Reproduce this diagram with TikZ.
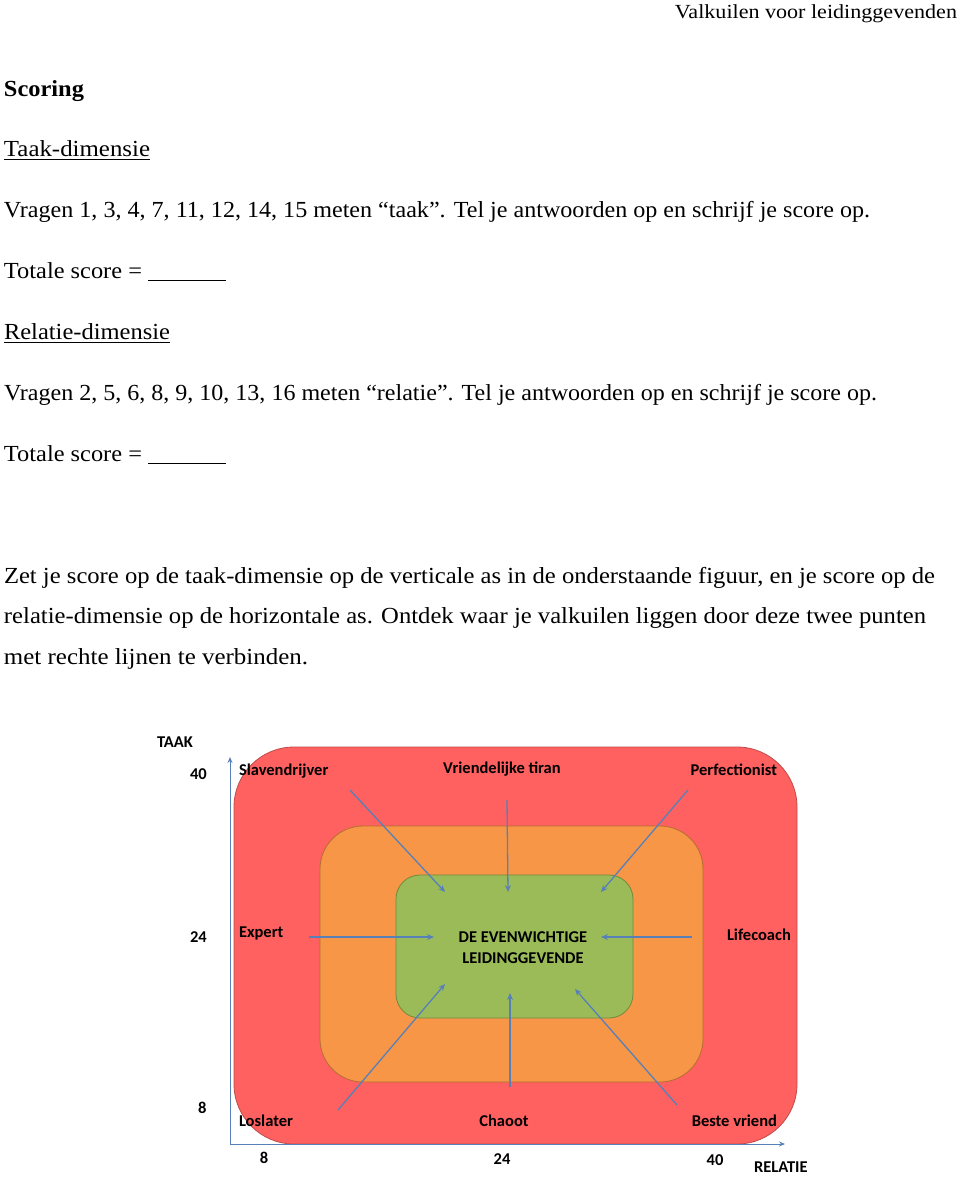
\documentclass[tikz,border=0pt]{standalone}
\usepackage{fontspec}
\setmainfont{Liberation Serif}
\newfontfamily\calib{Carlito}
\usetikzlibrary{arrows.meta}
\definecolor{redfill}{RGB}{255,96,96}
\definecolor{redline}{RGB}{190,75,72}
\definecolor{orfill}{RGB}{247,150,70}
\definecolor{orline}{RGB}{182,109,49}
\definecolor{grfill}{RGB}{155,187,89}
\definecolor{grline}{RGB}{113,137,63}
\definecolor{arrblue}{RGB}{88,128,184}
\newcommand{\fitw}[2]{\resizebox{#1pt}{\height}{#2}}
\tikzset{
  txt/.style={inner sep=0pt, outer sep=0pt, font=\fontsize{23}{27}\selectfont, anchor=base west},
  lab/.style={inner sep=0pt, outer sep=0pt, font=\calib\bfseries\fontsize{16.5}{19}\selectfont, text=black},
  ptr/.style={draw=arrblue, line width=1.3pt, -{Stealth[length=7pt,width=6pt,inset=2.5pt]}},
  axisline/.style={draw=arrblue, line width=1pt, -{Stealth[length=6pt,width=5pt,inset=2pt]}},
  zone/.style={line width=0.8pt}
}
\begin{document}
\begin{tikzpicture}[x=1pt,y=-1pt]
\useasboundingbox (0,0) rectangle (960,1179);
% header and text
\node[txt, anchor=base east, font=\fontsize{20}{23}\selectfont] (hdr) at (957,18) {\fitw{282}{Valkuilen voor leidinggevenden}};
\node[txt, font=\bfseries\fontsize{23}{27}\selectfont] (scoring) at (4,96) {\fitw{80}{Scoring}};
\node[txt] (taak) at (4,156) {\fitw{146}{Taak-dimensie}};
\draw[line width=0.9pt] (4,159) coordinate (tu1) -- (150,159) coordinate (tu2);
\node[txt] (vr1) at (4,217) {\fitw{866}{Vragen 1, 3, 4, 7, 11, 12, 14, 15 meten “taak”. Tel je antwoorden op en schrijf je score op.}};
\node[txt] (ts1) at (4,278) {\fitw{138}{Totale score =}};
\draw[line width=0.9pt] (148,280) coordinate (s1a) -- (226,280) coordinate (s1b);
\node[txt] (rel) at (4,339) {\fitw{166}{Relatie-dimensie}};
\draw[line width=0.9pt] (4,342) coordinate (ru1) -- (170,342) coordinate (ru2);
\node[txt] (vr2) at (4,400) {\fitw{873}{Vragen 2, 5, 6, 8, 9, 10, 13, 16 meten “relatie”. Tel je antwoorden op en schrijf je score op.}};
\node[txt] (ts2) at (4,461) {\fitw{138}{Totale score =}};
\draw[line width=0.9pt] (148,463) coordinate (s2a) -- (226,463) coordinate (s2b);
\node[txt] (p1) at (4,583) {\fitw{931}{Zet je score op de taak-dimensie op de verticale as in de onderstaande figuur, en je score op de}};
\node[txt] (p2) at (4,623.5) {\fitw{922}{relatie-dimensie op de horizontale as. Ontdek waar je valkuilen liggen door deze twee punten}};
\node[txt] (p3) at (4,664) {\fitw{304}{met rechte lijnen te verbinden.}};
% zones
\draw[zone, fill=redfill, draw=redline, rounded corners=60pt] (234,747) rectangle (797,1144);
\draw[zone, fill=orfill, draw=orline, rounded corners=43pt] (320,826) rectangle (703,1082);
\draw[zone, fill=grfill, draw=grline, rounded corners=24pt] (396,875) rectangle (633,1018);
% axes
\coordinate (origin) at (230,1144);
\coordinate (ytop) at (230,757);
\coordinate (xend) at (785,1144);
\draw[axisline] (origin) -- (ytop);
\draw[axisline] (origin) -- (xend);
% axis labels
\node[lab, anchor=base west] (taaklab) at (157,747.5) {TAAK};
\node[lab, anchor=base west] (y40) at (190,779.5) {40};
\node[lab, anchor=base west] (y24) at (190,942.5) {24};
\node[lab, anchor=base west] (y8) at (198,1113.5) {8};
\node[lab, anchor=base] (x8) at (264,1163.5) {8};
\node[lab, anchor=base] (x24) at (502,1164.5) {24};
\node[lab, anchor=base] (x40) at (715,1165) {40};
\node[lab, anchor=base west] (rellab) at (754,1172.5) {RELATIE};
% zone labels
\node[lab, anchor=base west] (slav) at (239,775) {Slavendrijver};
\node[lab, anchor=base] (vrien) at (502,773.5) {Vriendelijke tiran};
\node[lab, anchor=base east] (perf) at (777,775) {Perfectionist};
\node[lab, anchor=base west] (expert) at (239,937.5) {Expert};
\node[lab, anchor=base west] (life) at (727,940.5) {Lifecoach};
\node[lab, anchor=base west] (los) at (239,1126) {Loslater};
\node[lab, anchor=base] (chaoot) at (504,1126) {Chaoot};
\node[lab, anchor=base east] (beste) at (777,1126) {Beste vriend};
\node[lab, anchor=base] (centre1) at (523,942) {DE EVENWICHTIGE};
\node[lab, anchor=base] (centre2) at (523,963) {LEIDINGGEVENDE};
% arrows
\coordinate (aS1) at (350,790); \coordinate (aS2) at (445,892);
\coordinate (aV1) at (507,800); \coordinate (aV2) at (508,892);
\coordinate (aP1) at (688,790); \coordinate (aP2) at (601,892);
\coordinate (aE1) at (309,937); \coordinate (aE2) at (434,937);
\coordinate (aL1) at (692,937); \coordinate (aL2) at (601,937);
\coordinate (aO1) at (338,1110); \coordinate (aO2) at (445,984);
\coordinate (aC1) at (510,1087); \coordinate (aC2) at (510,993);
\coordinate (aB1) at (677,1105); \coordinate (aB2) at (575,989);
\draw[ptr] (aS1) -- (aS2);
\draw[ptr] (aV1) -- (aV2);
\draw[ptr] (aP1) -- (aP2);
\draw[ptr] (aE1) -- (aE2);
\draw[ptr] (aL1) -- (aL2);
\draw[ptr] (aO1) -- (aO2);
\draw[ptr] (aC1) -- (aC2);
\draw[ptr] (aB1) -- (aB2);
\end{tikzpicture}
\end{document}
